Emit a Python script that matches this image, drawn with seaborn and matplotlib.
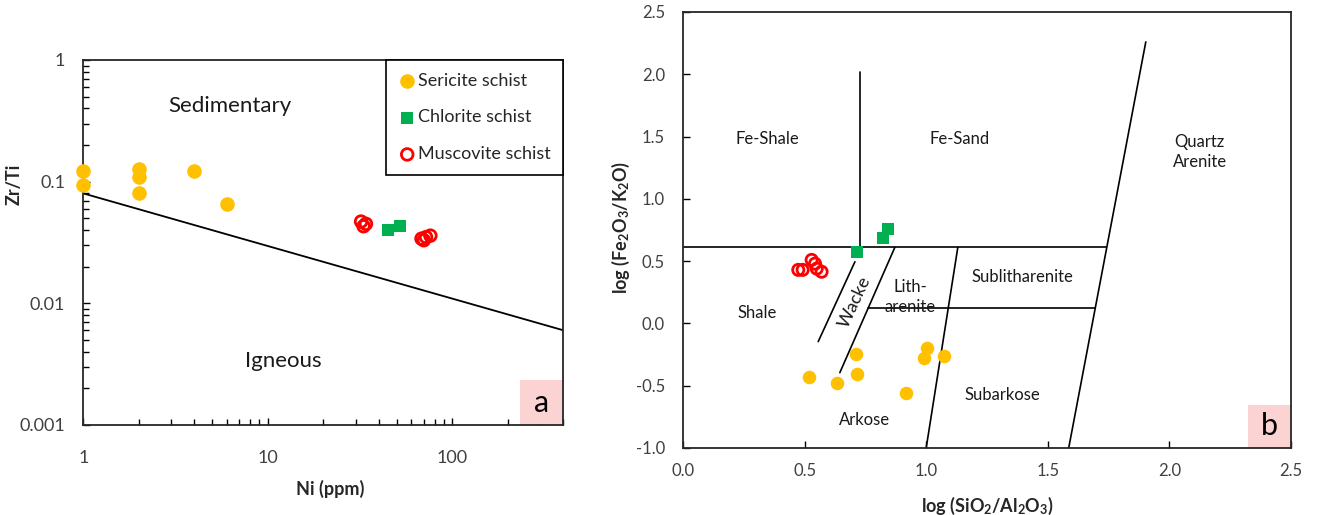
import numpy as np
import pandas as pd
import matplotlib
matplotlib.use("Agg")
import matplotlib.pyplot as plt
from matplotlib.patches import Rectangle
import seaborn as sns

# ---------------- data: panel a ----------------
ser_ni = [1, 1, 2, 2, 2, 4, 6]
ser_zrti = [0.122, 0.094, 0.127, 0.109, 0.081, 0.122, 0.066]
chl_ni = [45, 52]
chl_zrti = [0.040, 0.043]
mus_ni = [32, 34, 33, 68, 72, 76, 70]
mus_zrti = [0.047, 0.045, 0.043, 0.034, 0.035, 0.036, 0.033]
disc_ni = [1, 400]
disc_zrti = [0.08, 0.006]
a_xticks = [1, 10, 100]
a_xticklabels = ["1", "10", "100"]
a_yticks = [0.001, 0.01, 0.1, 1]
a_yticklabels = ["0.001", "0.01", "0.1", "1"]

# ---------------- data: panel b ----------------
ser_si = [0.518, 0.634, 0.711, 0.715, 0.919, 0.99, 1.005, 1.074]
ser_fe = [-0.432, -0.48, -0.247, -0.403, -0.56, -0.28, -0.199, -0.259]
chl_si = [0.716, 0.823, 0.844]
chl_fe = [0.575, 0.683, 0.757]
mus_si = [0.474, 0.492, 0.529, 0.543, 0.55, 0.570]
mus_fe = [0.43, 0.43, 0.51, 0.48, 0.44, 0.415]
# classification boundaries (segments)
bnd_x0 = [0.726, 0.0, 1.586, 1.0, 0.761, 0.871, 0.707]
bnd_y0 = [2.02, 0.61, -1.0, -1.0, 0.12, 0.61, 0.495]
bnd_x1 = [0.726, 1.74, 1.903, 1.13, 1.695, 0.645, 0.556]
bnd_y1 = [0.61, 0.61, 2.26, 0.61, 0.12, -0.395, -0.146]
b_ticks_x = [0.0, 0.5, 1.0, 1.5, 2.0, 2.5]
b_ticks_y = [-1.0, -0.5, 0.0, 0.5, 1.0, 1.5, 2.0, 2.5]

YELLOW = "#FFC000"
GREEN = "#00B050"
RED = "#FF0000"
PINK = "#FCD3D3"
TICKC = "#404040"

sns.set_theme(style="ticks")
plt.rcParams["font.family"] = ["Lato", "DejaVu Sans"]
plt.rcParams["mathtext.fontset"] = "custom"
plt.rcParams["mathtext.rm"] = "Lato"
plt.rcParams["mathtext.bf"] = "Lato:bold"
plt.rcParams["mathtext.it"] = "Lato:italic"

fig = plt.figure(figsize=(13.18, 5.15), dpi=100)
axa = fig.add_axes([0.0633, 0.1748, 0.3642, 0.7087])
axb = fig.add_axes([0.5182, 0.1301, 0.4613, 0.8466])

# ---------------- panel a ----------------
sns.lineplot(x=disc_ni, y=disc_zrti, ax=axa, color="black", lw=1.3,
             estimator=None, sort=False, legend=False)
sns.scatterplot(x=ser_ni, y=ser_zrti, ax=axa, color=YELLOW, marker="o",
                s=110, linewidth=0, label="Sericite schist", zorder=3)
sns.scatterplot(x=chl_ni, y=chl_zrti, ax=axa, color=GREEN, marker="s",
                s=80, linewidth=0, label="Chlorite schist", zorder=3)
sns.scatterplot(x=mus_ni, y=mus_zrti, ax=axa, color=RED, marker="o",
                s=70, linewidth=2.0, label="Muscovite schist", zorder=3)
coll = axa.collections[-1]
coll.set_facecolor("none")
coll.set_edgecolor(RED)
for c in axa.collections:
    c.set_clip_on(False)

axa.set_xscale("log")
axa.set_yscale("log")
axa.set_xlim(1, 400)
axa.set_ylim(0.001, 1)
axa.set_xticks(a_xticks)
axa.set_xticklabels(a_xticklabels)
axa.set_yticks(a_yticks)
axa.set_yticklabels(a_yticklabels)
axa.tick_params(axis="both", which="both", direction="in", colors="black",
                labelcolor=TICKC, labelsize=13)
axa.tick_params(axis="both", which="major", length=5, width=1)
axa.tick_params(axis="both", which="minor", length=4, width=1)
axa.tick_params(axis="y", which="both", pad=13)
axa.tick_params(axis="x", which="both", pad=18)
for sp in axa.spines.values():
    sp.set_visible(True)
    sp.set_color("#262626")
    sp.set_linewidth(1.3)

axa.set_xlabel("Ni (ppm)", fontsize=13, fontweight="bold", color="#262626")
axa.set_ylabel("Zr/Ti", fontsize=13, fontweight="bold", color="#262626")
axa.xaxis.set_label_coords(0.515, -0.15)
axa.yaxis.set_label_coords(-0.127, 0.66)

axa.text(6.2, 0.42, "Sedimentary", fontsize=16, ha="center", va="center", color="#1a1a1a")
axa.text(12.1, 0.00336, "Igneous", fontsize=16, ha="center", va="center", color="#1a1a1a")

leg = axa.legend(loc="upper right", fontsize=13, frameon=True, fancybox=False,
                 edgecolor="black", framealpha=1, borderaxespad=0,
                 labelspacing=1.15, handletextpad=0.1, handlelength=1.0,
                 borderpad=0.7, markerscale=1.0)
leg.get_frame().set_linewidth(1.2)
leg.set_zorder(5)

wa, ha = 0.09, 0.123
axa.add_patch(Rectangle((1 - wa, 0), wa, ha, transform=axa.transAxes,
                        facecolor=PINK, edgecolor="none", zorder=1))
axa.text(1 - wa / 2, ha / 2, "a", transform=axa.transAxes, ha="center",
         va="center", fontsize=22, color="black", zorder=2)

# ---------------- panel b ----------------
seg_rows = []
for i in range(len(bnd_x0)):
    seg_rows.append({"seg": i, "x": bnd_x0[i], "y": bnd_y0[i]})
    seg_rows.append({"seg": i, "x": bnd_x1[i], "y": bnd_y1[i]})
seg_df = pd.DataFrame(seg_rows)
sns.lineplot(data=seg_df, x="x", y="y", units="seg", estimator=None, sort=False,
             ax=axb, color="black", lw=1.2, legend=False)

sns.scatterplot(x=ser_si, y=ser_fe, ax=axb, color=YELLOW, marker="o",
                s=95, linewidth=0, zorder=3, legend=False)
sns.scatterplot(x=chl_si, y=chl_fe, ax=axb, color=GREEN, marker="s",
                s=80, linewidth=0, zorder=3, legend=False)
sns.scatterplot(x=mus_si, y=mus_fe, ax=axb, color=RED, marker="o",
                s=65, linewidth=2.0, zorder=3, legend=False)
collb = axb.collections[-1]
collb.set_facecolor("none")
collb.set_edgecolor(RED)

axb.set_xlim(0, 2.5)
axb.set_ylim(-1.0, 2.5)
axb.set_xticks(b_ticks_x)
axb.set_xticklabels([f"{v:.1f}" for v in b_ticks_x])
axb.set_yticks(b_ticks_y)
axb.set_yticklabels([f"{v:.1f}" for v in b_ticks_y])
axb.tick_params(axis="both", which="major", direction="in", length=5, width=1,
                colors="black", labelcolor=TICKC, labelsize=12)
axb.tick_params(axis="y", pad=13)
axb.tick_params(axis="x", pad=11)
for sp in axb.spines.values():
    sp.set_visible(True)
    sp.set_color("#262626")
    sp.set_linewidth(1.3)

axb.set_xlabel(r"log (SiO$_\mathbf{2}$/Al$_\mathbf{2}$O$_\mathbf{3}$)", fontsize=13,
               fontweight="bold", color="#262626")
axb.set_ylabel(r"log (Fe$_\mathbf{2}$O$_\mathbf{3}$/K$_\mathbf{2}$O)", fontsize=13,
               fontweight="bold", color="#262626")
axb.xaxis.set_label_coords(0.5, -0.108)
axb.yaxis.set_label_coords(-0.084, 0.507)

lab_kw = dict(fontsize=12, ha="center", va="center", color="#1a1a1a")
axb.text(0.349, 1.479, "Fe-Shale", **lab_kw)
axb.text(1.138, 1.479, "Fe-Sand", **lab_kw)
axb.text(2.124, 1.375, "Quartz\nArenite", linespacing=1.3, **lab_kw)
axb.text(0.304, 0.083, "Shale", **lab_kw)
axb.text(0.705, 0.174, "Wacke", rotation=65, rotation_mode="anchor",
         fontsize=13, ha="center", va="center", color="#1a1a1a")
axb.text(0.933, 0.21, "Lith-\narenite", linespacing=1.3, **lab_kw)
axb.text(1.397, 0.376, "Sublitharenite", **lab_kw)
axb.text(1.315, -0.574, "Subarkose", **lab_kw)
axb.text(0.748, -0.774, "Arkose", **lab_kw)

wb, hb = 0.071, 0.099
axb.add_patch(Rectangle((1 - wb, 0), wb, hb, transform=axb.transAxes,
                        facecolor=PINK, edgecolor="none", zorder=1))
axb.text(1 - wb / 2, hb / 2, "b", transform=axb.transAxes, ha="center",
         va="center", fontsize=22, color="black", zorder=2)

fig.savefig("out.png", dpi=100)
